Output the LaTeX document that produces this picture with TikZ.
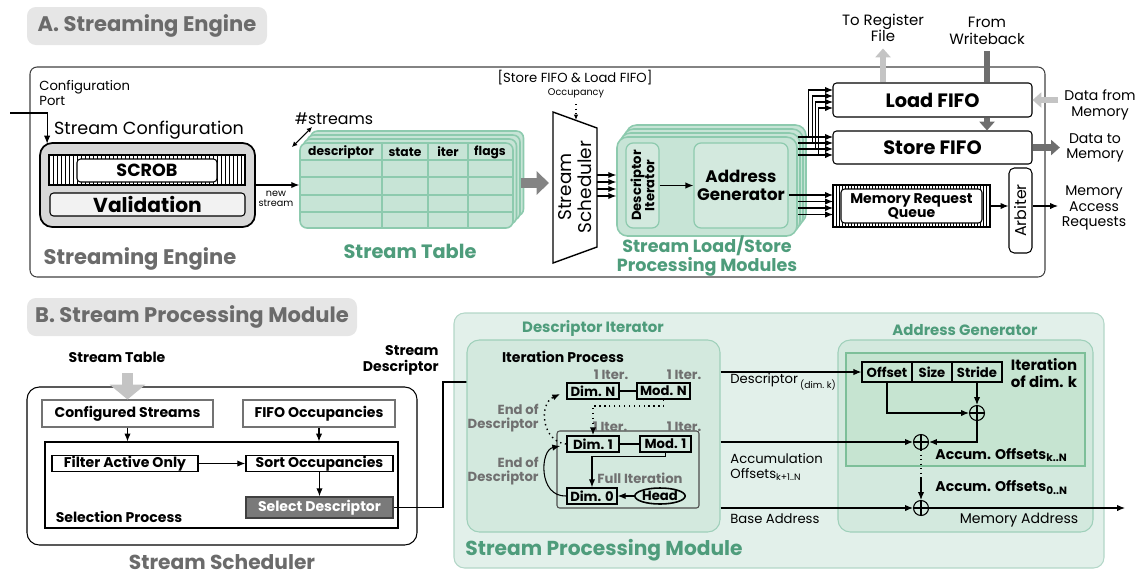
\documentclass[tikz,border=0pt]{standalone}
\usepackage{fontspec}
\setmainfont{Poppins}
\usetikzlibrary{arrows.meta,calc,shapes.geometric}
\definecolor{ttlfill}{HTML}{E6E6E6}
\definecolor{ttltext}{HTML}{6B6B6B}
\definecolor{sgreen}{HTML}{4E9C7B}
\definecolor{tblfill}{HTML}{C7E4D6}
\definecolor{tblline}{HTML}{8DCAAE}
\definecolor{spmfill}{HTML}{E2F0EA}
\definecolor{spmline}{HTML}{B3D7C8}
\definecolor{ipfill}{HTML}{D3E9DE}
\definecolor{ipline}{HTML}{9FD0BA}
\definecolor{iterfill}{HTML}{C6E4D1}
\definecolor{iterline}{HTML}{7DBF99}
\definecolor{cfgfill}{HTML}{D8D8D8}
\definecolor{darkarr}{HTML}{6E6E6E}
\definecolor{lightarr}{HTML}{C4C4C4}
\definecolor{itergray}{HTML}{707070}

\tikzset{
  wh/.style 2 args={minimum width=#1*0.2mm,minimum height=#2*0.2mm,inner sep=0pt},
  ttlbox/.style={fill=ttlfill,rounded corners=5pt,text=ttltext,font=\fontsize{12}{14}\selectfont\bfseries},
  ttl/.style={text=ttltext,font=\fontsize{11.5}{13}\selectfont\bfseries},
  gttl/.style={text=sgreen,font=\fontsize{11}{11.5}\selectfont\bfseries,align=center},
  sm/.style={font=\fontsize{7.5}{8.3}\selectfont,align=center},
  smb/.style={font=\fontsize{8}{9}\selectfont\bfseries},
  tblhd/.style={font=\fontsize{7}{8}\selectfont\bfseries},
  tblbox/.style={draw=tblline,fill=tblfill,rounded corners=4pt,line width=0.9pt},
  agbox/.style={draw=tblline,fill=ipfill,rounded corners=4pt,line width=0.7pt},
  fifo/.style={draw,fill=white,rounded corners=2pt,font=\fontsize{11}{12}\selectfont\bfseries},
  bbox/.style={draw,line width=0.9pt,fill=white,font=\fontsize{8}{9}\selectfont\bfseries},
  itbox/.style={draw,line width=0.9pt,font=\fontsize{7.5}{8}\selectfont\bfseries},
  iterlbl/.style={text=itergray,font=\fontsize{7.5}{8}\selectfont\bfseries},
  lgarrow/.style={lightarr,line width=3.5pt,-{Triangle[length=5pt,width=8.5pt]}},
  dgarrow/.style={darkarr,line width=3.5pt,-{Triangle[length=5pt,width=8.5pt]}},
  oplus/.style={draw,circle,fill=iterfill,minimum size=15*0.2mm,inner sep=0pt,
    path picture={\draw (path picture bounding box.north) -- (path picture bounding box.south)
      (path picture bounding box.west) -- (path picture bounding box.east);}},
}

\begin{document}
\begin{tikzpicture}[x=0.2mm,y=-0.2mm,line width=0.6pt,>={Latex[length=4.5pt,width=3.6pt]}]
\useasboundingbox (0,0) rectangle (1139,576);

% A. Streaming Engine
\node[ttlbox,wh={240}{38}] (ttlA) at (147,26) {A. Streaming Engine};
\node[draw=black!75,rounded corners=4pt,wh={1015}{210}] (engine) at (537.5,172) {};
\node[sm,anchor=north west,align=left] (port) at (33,74) {Configuration\\Port};

\node[draw,line width=1pt,rounded corners=7pt,fill=cfgfill,wh={215}{84}] (conf) at (147.5,185) {};
\node[draw,fill=white,wh={196}{30}] (hatchC) at (147,170) {};
\foreach \x in {49,53,...,245}
  \draw[line width=0.35pt] (\x,155) -- (\x,185);
\node[draw,fill=white,rounded corners=2pt,wh={140}{23},font=\fontsize{10}{11}\selectfont\bfseries] (scrob) at (147,170.5) {SCROB};
\node[draw,fill=black!5,rounded corners=2pt,wh={195}{23},font=\fontsize{11.5}{12}\selectfont\bfseries] (valid) at (147.5,204.5) {Validation};
\node[font=\fontsize{10}{11}\selectfont] (conftxt) at (149,130) {Stream Configuration};
\coordinate (portin) at (10,113);
\draw[->] (portin) -| ([xshift=1.6mm,yshift=-0.3mm]conf.north west);

% stream table
\foreach \i in {3,2,1}
  \draw[tblbox] (300+3.5*\i,143-4*\i) rectangle (513+3.5*\i,228-4*\i);
\node[tblbox,wh={213}{85}] (stbl) at (406.5,185.5) {};
\foreach \x in {382,428,468}
  \draw[tblline,line width=0.8pt] (\x,143) -- (\x,228);
\foreach \y in {160,177,195,212}
  \draw[tblline,line width=0.8pt] (300,\y) -- (513,\y);
\node[tblhd] (hdesc) at (341,152) {descriptor};
\node[tblhd] (hstate) at (405,152) {state};
\node[tblhd] (hiter) at (448,152) {iter};
\node[tblhd] (hflags) at (490,152) {flags};
\node[font=\fontsize{9}{10}\selectfont] (nstr) at (334,119) {\#streams};
\coordinate (nsA) at (292,147);
\coordinate (nsB) at (312,127);
\draw[{Latex[length=3pt,width=3pt]}-{Latex[length=3pt,width=3pt]}] (nsA) -- (nsB);
\draw[->] (conf.east) -- (stbl.west |- conf.east);
\node[font=\fontsize{5.5}{6}\selectfont,align=center] (newst) at (276,199) {new\\stream};
\node[gttl] (stbltxt) at (410,251) {Stream Table};

% scheduler
\draw[line width=0.8pt] (553,112) -- (597,128) -- (597,247) -- (553,263) -- cycle;
\node[rotate=90,align=center,font=\fontsize{10.5}{11}\selectfont] (sched) at (575,187) {Stream\\Scheduler};
\coordinate (schedin) at (549,183);
\coordinate (schedR) at (597,185.5);
\draw[darkarr!85,line width=5.5pt,-{Triangle[length=7pt,width=13pt]}] ([xshift=1.4mm]stbl.east |- schedin) -- (schedin);
\node[font=\fontsize{7.5}{8}\selectfont] (occtitle) at (575,78) {[Store FIFO \& Load FIFO]};
\node[font=\fontsize{5.5}{6}\selectfont] (occ) at (576,93) {Occupancy};
\coordinate (occin) at (576,120);
\draw[dotted,-{Latex[length=3pt,width=2.5pt]}] (occ.south) -- (occin);

% processing modules
\foreach \i in {3,2,1}
  \draw[tblbox,rounded corners=6pt] (617+3*\i,137-4*\i) rectangle (797+3*\i,236-4*\i);
\node[tblbox,rounded corners=6pt,wh={180}{99}] (spmod) at (707,186.5) {};
\foreach \d in {-10.5,-3.5,3.5,10.5}
  \draw[->] ($(schedR)+(0,\d)$) -- ($(spmod.west |- schedR)+(0,\d)$);
\node[agbox,wh={33}{85}] (desciter) at (642.5,185.5) {};
\node[rotate=90,align=center,font=\fontsize{7.5}{7.5}\selectfont\bfseries] (desctxt) at (desciter) {Descriptor\\Iterator};
\node[agbox,wh={94}{85},align=center,font=\fontsize{9.5}{10.5}\selectfont\bfseries] (addrgen) at (741,185.5) {Address\\Generator};
\draw[->] (desciter.east) -- (addrgen.west);
\node[gttl,font=\fontsize{10}{10.5}\selectfont\bfseries] (spmodtxt) at (707,256) {Stream Load/Store\\Processing Modules};

% FIFOs, queue, arbiter
\node[fifo,wh={199}{34}] (loadfifo) at (932.5,100) {Load FIFO};
\node[fifo,wh={199}{33}] (storefifo) at (932.5,147.5) {Store FIFO};
\node[draw,fill=white,wh={157}{42}] (mrqout) at (911.5,206) {};
\foreach \x in {833,836,...,990}
  \draw[line width=0.3pt] (\x,185) -- (\x,227);
\node[draw,fill=white,rounded corners=2pt,wh={141}{34},align=center,font=\fontsize{8}{8}\selectfont\bfseries] (mrq) at (911.5,206) {Memory Request\\Queue};
\node[draw,fill=white,rounded corners=3pt,wh={23}{85}] (arbiter) at (1020.5,210.5) {};
\node[rotate=90,font=\fontsize{9}{9}\selectfont] (arbtxt) at (arbiter) {Arbiter};
\draw[->] (mrqout.east) -- (arbiter.west |- mrqout.east);
\coordinate (memreq) at (1058,206);
\draw[->] (arbiter.east |- mrqout.east) -- (memreq);
\node[sm,font=\fontsize{8}{8.8}\selectfont] (memreqtxt) at (1094,208) {Memory\\Access\\Requests};

\foreach \i in {0,...,3}{
  \coordinate (st\i) at (833,137+6*\i);
  \coordinate (ld\i) at (833,90+6*\i);
  \draw[->] (spmod.east |- st\i) -- (st\i);
  \draw[->] ($(spmod.east |- st\i)+(11+3.3*\i,0)$) |- (ld\i);
  \coordinate (mq\i) at (833,195+6.5*\i);
  \draw[->] (spmod.east |- mq\i) -- (mq\i);
}
\draw (addrgen.east |- mq0) -- (spmod.east |- mq0);

\node[sm,font=\fontsize{8.5}{9.5}\selectfont] (toreg) at (883,28) {To Register\\File};
\draw[lgarrow] (loadfifo.north -| toreg.south) -- (toreg.south);
\node[sm,font=\fontsize{8.5}{9.5}\selectfont] (fromwb) at (987,31) {From\\Writeback};
\draw[darkarr,line width=3.5pt] (fromwb.south) -- (loadfifo.north -| fromwb.south);
\draw[dgarrow] (loadfifo.south -| fromwb.south) -- (storefifo.north -| fromwb.south);
\node[sm,font=\fontsize{8}{8.8}\selectfont] (datafrom) at (1100,105) {Data from\\Memory};
\draw[lgarrow] (datafrom.west |- loadfifo.east) -- (loadfifo.east);
\node[sm,font=\fontsize{8}{8.8}\selectfont] (datato) at (1095,148) {Data to\\Memory};
\draw[dgarrow] (storefifo.east) -- (datato.west |- storefifo.east);
\node[ttl,font=\fontsize{12}{13}\selectfont\bfseries] (engtxt) at (140,259) {Streaming Engine};

% B. Stream Processing Module
\node[ttlbox,wh={330}{38}] (ttlB) at (192,317) {B. Stream Processing Module};
\node[smb] (sttxt) at (117,357) {Stream Table};
\node[draw,rounded corners=7pt,wh={390}{158}] (schedbox) at (222,466) {};
\node[bbox,draw=black!55,line width=0.6pt,wh={171}{27}] (confstr) at (127.5,413.5) {Configured Streams};
\node[bbox,draw=black!55,line width=0.6pt,wh={152}{27}] (fifoocc) at (319,413.5) {FIFO Occupancies};
\coordinate (stin) at (127.5,373);
\draw[lightarr,line width=6.2pt,-{Triangle[length=8.5pt,width=20pt]}] (stin) -- (confstr.north);
\node[draw,wh={353}{86}] (selproc) at (221.5,485) {};
\node[bbox,wh={146}{16}] (filter) at (125,463.5) {Filter Active Only};
\node[bbox,wh={147}{16}] (sort) at (319.5,463.5) {Sort Occupancies};
\node[bbox,fill=black!52,draw=black!75,text=white,wh={147}{21}] (select) at (319.5,507.5) {Select Descriptor};
\node[smb] (seltxt) at (119,517) {Selection Process};
\draw[->] (confstr.south) -- (confstr.south |- selproc.north);
\draw[->] (fifoocc.south) -- (fifoocc.south |- selproc.north);
\draw[->] (filter.east) -- (sort.west);
\draw[->] (sort.south) -- (select.north);
\node[ttl] (schedtxt) at (222,562) {Stream Scheduler};

\node[smb,anchor=east,align=right] (sdtxt) at (445,360) {Stream\\Descriptor};
\node[draw=spmline,fill=spmfill,rounded corners=6pt,wh={650}{255}] (spm) at (779,440.5) {};
\coordinate (itin) at (482,382);
\coordinate (sdbend) at (443,382);
\draw[->] (select.east) -| (sdbend) -- (itin);

% descriptor iterator
\node[gttl,font=\fontsize{8.5}{9}\selectfont\bfseries] (ditxt) at (593,328) {Descriptor Iterator};
\node[draw=ipline,fill=ipfill,rounded corners=7pt,wh={253}{192}] (itproc) at (593.5,436) {};
\node[smb] (iptxt) at (563,357) {Iteration Process};
\node[draw=black!70,rounded corners=1.5pt,wh={142}{77}] (inner) at (628,469.5) {};
\node[itbox,wh={52}{16}] (dimN) at (593,391) {Dim. N};
\node[itbox,wh={53}{16}] (modN) at (663.5,391) {Mod. N};
\node[itbox,wh={52}{16}] (dim1) at (593,444) {Dim. 1};
\node[itbox,wh={51}{16}] (mod1) at (665.5,444) {Mod. 1};
\node[itbox,wh={50}{16}] (dim0) at (592,496) {Dim. 0};
\node[itbox,ellipse,wh={46}{16}] (head) at (660,496) {Head};
\node[iterlbl] (itNa) at (611,375) {1 Iter.};
\node[iterlbl] (itNb) at (684,375) {1 Iter.};
\node[iterlbl] (it1a) at (610,427) {1 Iter.};
\node[iterlbl] (it1b) at (684,427) {1 Iter.};
\node[iterlbl] (fulltxt) at (640,478) {Full Iteration};
\node[iterlbl,anchor=east,align=right] (eod1) at (545,418) {End of\\Descriptor};
\node[iterlbl,anchor=east,align=right] (eod0) at (545,471) {End of\\Descriptor};
\draw (dimN.east) -- (modN.west);
\draw (dim1.east) -- (mod1.west);
\draw[->] (head.west) -- (dim0.east);
\draw[->] (mod1.south) |- ++(0,4) -| (dim0.north);
\draw[dotted,line width=0.8pt,->] (modN.south) |- ++(0,6) -| (dim1.north);
\draw[dotted,line width=0.8pt,->] (dim1.west) .. controls (542,442) and (538,404) .. ([xshift=-1.2mm,yshift=-0.6mm]dimN.west);
\draw[->] (dim0.west) .. controls (538,497) and (540,450) .. ([xshift=-1.2mm,yshift=-0.4mm]dim1.west);

% address generator
\node[gttl,font=\fontsize{8.5}{9}\selectfont\bfseries] (agtxt) at (965,330) {Address Generator};
\node[draw=ipline,fill=ipfill,rounded corners=7pt,wh={255}{192}] (agbox) at (965.5,436) {};
\node[draw=iterline,line width=1.4pt,fill=iterfill,wh={239}{113}] (iterk) at (965.5,409.5) {};
\node[itbox,line width=0.7pt,wh={50}{20}] (offset) at (887,372) {Offset};
\node[itbox,line width=0.7pt,wh={40}{20}] (size) at (932,372) {Size};
\node[itbox,line width=0.7pt,wh={50}{20}] (stride) at (977,372) {Stride};
\node[smb,font=\fontsize{8.5}{9.5}\selectfont\bfseries,align=center] (iktxt) at (1044,373) {Iteration\\of dim. k};
\node[oplus] (plus1) at (977,413) {};
\node[oplus] (plus2) at (921,442) {};
\node[oplus,fill=ipfill] (plus3) at (921,508) {};
\coordinate (dotend) at (921,478);
\coordinate (memaddr) at (1125,508);
\draw[->] (offset.south) |- (plus1.west);
\draw[->] (stride.south) -- (plus1.north);
\draw[->] (plus1.south) |- (plus2.east);
\draw[dotted] (plus2.south) -- (dotend);
\draw[->] (dotend) -- (plus3.north);
\draw[->] (plus3.east) -- (memaddr);
\node[smb,anchor=west] (acckn) at (929,455) {Accum. Offsets\textsubscript{k..N}};
\node[smb,anchor=west] (acc0n) at (929,488) {Accum. Offsets\textsubscript{0..N}};
\node[sm,font=\fontsize{8}{9}\selectfont] (memtxt) at (1019,520) {Memory Address};

% links between the two
\draw[->] (itproc.east |- offset.west) -- (offset.west);
\draw[->] (itproc.east |- plus2.west) -- (plus2.west);
\draw[->] (itproc.east |- plus3.west) -- (plus3.west);
\node[anchor=west,font=\fontsize{7.5}{8}\selectfont] (desclbl) at (724,382) {Descriptor\,\textsubscript{(dim.\ k)}};
\node[anchor=north west,align=left,font=\fontsize{7.5}{8.5}\selectfont] (acclbl) at (724,447) {Accumulation\\Offsets\textsubscript{k+1..N}};
\node[anchor=west,font=\fontsize{7.5}{8}\selectfont] (baselbl) at (724,519) {Base Address};
\node[gttl,font=\fontsize{11.5}{12.5}\selectfont\bfseries] (spmtxt) at (604,550) {Stream Processing Module};
\end{tikzpicture}
\end{document}
